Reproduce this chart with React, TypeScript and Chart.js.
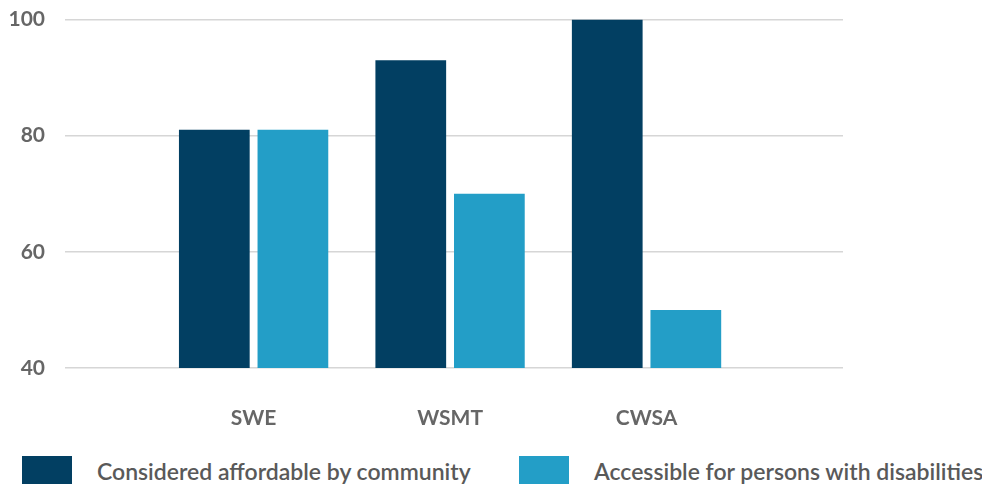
import React, { useEffect, useRef } from "react";
import { Chart, registerables } from "chart.js";

Chart.register(...registerables);

// Survey results (%), one value per site
const categories = ["SWE", "WSMT", "CWSA"];
const affordable = [81, 93, 100];
const accessible = [81, 70, 50];
const yTicks = [40, 60, 80, 100];

const seriesNames = [
  "Considered affordable by community",
  "Accessible for persons with disabilities",
];
const seriesColors = ["#023f62", "#239ec7"];

const FONT = "Lato, 'Open Sans', sans-serif";

export default function App() {
  const canvasRef = useRef<HTMLCanvasElement | null>(null);

  useEffect(() => {
    const canvas = canvasRef.current;
    if (!canvas) return;
    const toPoints = (vals: number[]) => vals.map((v, i) => ({ x: i + 1, y: v }));
    const chart = new Chart(canvas, {
      type: "bar",
      data: {
        datasets: [
          {
            label: seriesNames[0],
            data: toPoints(affordable),
            backgroundColor: seriesColors[0],
            borderWidth: 0,
          },
          {
            label: seriesNames[1],
            data: toPoints(accessible),
            backgroundColor: seriesColors[1],
            borderWidth: 0,
          },
        ],
      },
      options: {
        animation: false,
        responsive: true,
        maintainAspectRatio: false,
        layout: { padding: { top: 11, right: 139, left: 0, bottom: 0 } },
        plugins: {
          legend: { display: false },
          tooltip: { enabled: false },
        },
        scales: {
          x: {
            type: "linear",
            min: 0.04,
            max: 4.0,
            offset: false,
            grid: { display: false, drawTicks: false },
            border: { display: false },
            afterBuildTicks: (scale: any) => {
              scale.ticks = categories.map((_, i) => ({ value: i + 1 }));
            },
            afterFit: (scale: any) => {
              scale.height = 80;
            },
            ticks: {
              autoSkip: false,
              maxRotation: 0,
              padding: 38,
              color: "#666666",
              font: { family: FONT, size: 21, weight: "bold" },
              callback: (value: any) => categories[Number(value) - 1] ?? "",
            },
          },
          y: {
            min: yTicks[0],
            max: yTicks[yTicks.length - 1],
            afterBuildTicks: (scale: any) => {
              scale.ticks = yTicks.map((v) => ({ value: v }));
            },
            afterFit: (scale: any) => {
              scale.width = 57;
            },
            grid: { color: "#d6d6d6", lineWidth: 1.5, drawTicks: false },
            border: { display: false },
            ticks: {
              padding: 20,
              color: "#666666",
              font: { family: FONT, size: 21, weight: "bold", lineHeight: 1 },
            },
          },
        },
      },
    });
    return () => chart.destroy();
  }, []);

  const legendLeft = [14, 511];

  return (
    <div style={{ position: "relative", width: 974, height: 476, overflow: "hidden" }}>
      <div style={{ position: "absolute", left: 0, top: -19, width: 974, height: 459 }}>
        <canvas ref={canvasRef} />
      </div>
      {seriesNames.map((name, i) => (
        <div
          key={name}
          style={{
            position: "absolute",
            left: legendLeft[i],
            top: 448,
            display: "flex",
            alignItems: "center",
            fontFamily: FONT,
            fontSize: 23,
            fontWeight: 600,
            color: "#595959",
            whiteSpace: "nowrap",
          }}
        >
          <span
            style={{
              display: "inline-block",
              width: 50,
              height: 30,
              background: seriesColors[i],
              marginRight: 25,
            }}
          />
          <span>{name}</span>
        </div>
      ))}
    </div>
  );
}
